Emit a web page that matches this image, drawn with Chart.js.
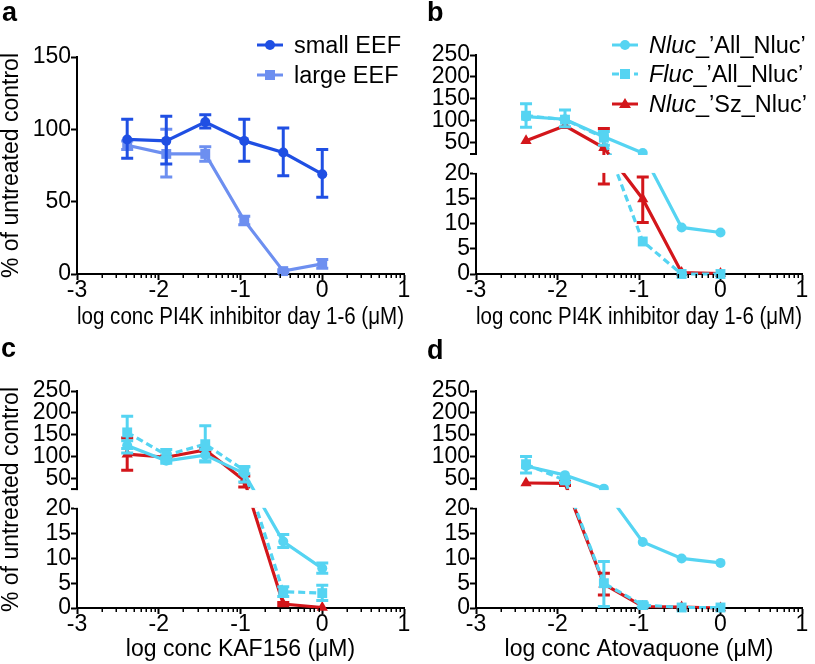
<!DOCTYPE html>
<html>
<head>
<meta charset="utf-8">
<script src="https://cdn.jsdelivr.net/npm/chart.js@4.4.1/dist/chart.umd.min.js"></script>
<style>
  body { margin: 0; background: #fff; width: 815px; height: 664px; overflow: hidden; position: relative;
         font-family: 'Liberation Sans', Arial, Helvetica, sans-serif; color: #000; }
  canvas { position: absolute; }
  .lbl { position: absolute; font-weight: bold; font-size: 27px; line-height: 27px; }
  .leg { position: absolute; font-size: 23.5px; line-height: 24px; height: 24px; display: flex; align-items: center; white-space: nowrap; }
  .leg svg { margin-right: 11px; }
</style>
</head>
<body>
<canvas id="pa" width="415" height="334" style="left:0;top:0"></canvas>
<canvas id="pb" width="405" height="334" style="left:410px;top:0"></canvas>
<canvas id="pc" width="415" height="332" style="left:0;top:332px"></canvas>
<canvas id="pd" width="405" height="332" style="left:410px;top:332px"></canvas>

<div class="lbl" style="left:2px;top:-1px">a</div>
<div class="lbl" style="left:427px;top:-1px">b</div>
<div class="lbl" style="left:1px;top:335px">c</div>
<div class="lbl" style="left:427px;top:337px">d</div>
<div id="legends"></div>

<script>
// x = log10 of concentration (µM), 3-fold dilutions
const logConc = [-2.386, -1.908, -1.431, -0.954, -0.477, 0];
const xTicks = [-3, -2, -1, 0, 1];
const xTickLabels = ['-3', '-2', '-1', '0', '1'];
const minorFactors = [2, 3, 4, 5, 6, 7, 8, 9];
const yTicksA = [0, 50, 100, 150];
const yTicksBroken = [0, 5, 10, 15, 20, 50, 100, 150, 200, 250];

// panel a
const smallEEF   = [93, 92, 105, 92, 84, 69];
const smallEEFLo = [80, 76, 101, 78, 68, 53];
const smallEEFHi = [107, 109, 110, 107, 101, 86];
const largeEEF   = [89, 83, 83, 37, 2, 7];
const largeEEFLo = [86, 67, 78, 34, 1, 4];
const largeEEFHi = [92, 100, 88, 40, 3, 10];

// panel b (PI4K inhibitor)
const bNluc   = [110, 104, 64, 27, 9.3, 8.3];
const bNlucLo = [null, null, null, null, null, null];
const bNlucHi = [null, null, null, null, null, null];
const bFluc   = [112, 103, 62, 6.5, 0, 0];
const bFlucLo = [86, 87, 45, null, null, null];
const bFlucHi = [139, 125, 76, null, null, null];
const bSz     = [55, 89, 39, 15, 0.3, 0.1];
const bSzLo   = [null, null, 18, 10.3, null, null];
const bSzHi   = [null, null, 83, 19.4, null, null];

// panel c (KAF156)
const cNluc   = [125, 90, 103, 61, 13.4, 8.0];
const cNlucLo = [108, 84, 90, 41, 12.2, 7.0];
const cNlucHi = [136, 98, 116, 76, 14.8, 9.1];
const cFluc   = [155, 103, 128, 68, 3.3, 3.0];
const cFlucLo = [118, 90, 87, 60, 2.3, 1.5];
const cFlucHi = [192, 116, 170, 76, 4.3, 4.6];
const cSz     = [105, 98, 115, 45, 0.8, 0.1];
const cSzLo   = [68, 95, 112, 30, 0.5, null];
const cSzHi   = [142, 101, 118, 55, 1.1, null];

// panel d (Atovaquone)
const dNluc   = [78, 57, 26, 13.3, 10.0, 9.1];
const dNlucLo = [null, null, null, null, null, null];
const dNlucHi = [null, null, null, null, null, null];
const dFluc   = [82, 45, 5.0, 0.6, 0.1, 0.1];
const dFlucLo = [62, 40, 0.3, 0.2, null, null];
const dFlucHi = [100, 50, 9.4, 1.0, null, null];
const dSz     = [39, 38, 4.8, 0.3, 0.2, 0];
const dSzLo   = [null, 33, 2.6, null, null, null];
const dSzHi   = [null, 42, 7.0, null, null, null];

const colSmall = '#1f4fe3', colLarge = '#6d8ff0', colCyan = '#55d4f2', colRed = '#d3161b';
const FONT = "'Liberation Sans', Arial, Helvetica, sans-serif";
const yTitle = '% of untreated control';

// linear scale with a gap: 0..lowMax in the lower part, highMin..max in the upper part
class BrokenScale extends Chart.LinearScale {
  _parts() {
    const b = this.options.brk, h = this.bottom - this.top;
    const lowTop = this.bottom - h * b.lowFrac;
    return { b, lowTop, highBottom: lowTop - h * b.gapFrac };
  }
  getPixelForValue(v) {
    const { b, lowTop, highBottom } = this._parts();
    if (v <= b.lowMax) return this.bottom - (v - this.min) / (b.lowMax - this.min) * (this.bottom - lowTop);
    if (v >= b.highMin) return highBottom - (v - b.highMin) / (this.max - b.highMin) * (highBottom - this.top);
    return lowTop - (v - b.lowMax) / (b.highMin - b.lowMax) * (lowTop - highBottom);
  }
  getValueForPixel(p) {
    const { b, lowTop, highBottom } = this._parts();
    if (p >= lowTop) return this.min + (this.bottom - p) / (this.bottom - lowTop) * (b.lowMax - this.min);
    if (p <= highBottom) return b.highMin + (highBottom - p) / (highBottom - this.top) * (this.max - b.highMin);
    return b.lowMax + (lowTop - p) / (lowTop - highBottom) * (b.highMin - b.lowMax);
  }
}
BrokenScale.id = 'broken';
BrokenScale.defaults = Chart.LinearScale.defaults;
Chart.register(BrokenScale);

const decor = {
  id: 'decor',
  beforeDatasetDraw(chart, args) {
    const ds = chart.data.datasets[args.index];
    const x = chart.scales.x, y = chart.scales.y, ctx = chart.ctx;
    ctx.save();
    ctx.strokeStyle = ds.borderColor; ctx.lineWidth = 3; ctx.setLineDash([]);
    ds.errLo.forEach((lo, i) => {
      const hi = ds.errHi[i];
      if (lo == null || hi == null) return;
      const px = x.getPixelForValue(logConc[i]);
      const y1 = y.getPixelForValue(lo), y2 = y.getPixelForValue(hi);
      ctx.beginPath();
      ctx.moveTo(px, y1); ctx.lineTo(px, y2);
      ctx.moveTo(px - 6, y1); ctx.lineTo(px + 6, y1);
      ctx.moveTo(px - 6, y2); ctx.lineTo(px + 6, y2);
      ctx.stroke();
    });
    ctx.restore();
  },
  afterDatasetsDraw(chart) {
    const { ctx, chartArea: ca } = chart;
    const x = chart.scales.x, y = chart.scales.y;
    ctx.save();
    ctx.strokeStyle = '#000'; ctx.lineWidth = 1.5;
    ctx.beginPath();
    xTicks.slice(0, -1).forEach(d => minorFactors.forEach(k => {
      const px = Math.round(x.getPixelForValue(d + Math.log10(k))) + 0.25;
      ctx.moveTo(px, ca.bottom); ctx.lineTo(px, ca.bottom + 4);
    }));
    ctx.stroke();
    const b = y.options.brk;
    if (b) {
      const lowTop = y.getPixelForValue(b.lowMax), highBottom = y.getPixelForValue(b.highMin);
      ctx.fillStyle = '#fff';
      ctx.fillRect(ca.left - 3, highBottom + 1, ca.right - ca.left + 10, lowTop - highBottom - 2);
      ctx.lineWidth = 2;
      ctx.beginPath(); ctx.moveTo(ca.left - 6, highBottom); ctx.lineTo(ca.left + 1, highBottom); ctx.stroke();
    }
    ctx.restore();
  }
};

function series(label, y, lo, hi, color, marker, r, dash) {
  return { label, y, lo, hi, color, marker, r, dash };
}

function makePanel(id, p) {
  const yScale = p.broken
    ? { type: 'broken', min: 0, max: 250, brk: { lowMax: 20, highMin: 25, lowFrac: 0.457, gapFrac: 0.091 } }
    : { type: 'linear', min: 0, max: 150 };
  const yTicks = p.broken ? yTicksBroken : yTicksA;
  new Chart(document.getElementById(id), {
    type: 'line',
    data: {
      datasets: p.series.map(s => ({
        label: s.label,
        data: logConc.map((x, i) => ({ x, y: s.y[i] })),
        errLo: s.lo, errHi: s.hi,
        borderColor: s.color, backgroundColor: s.color,
        borderWidth: 3.2, borderDash: s.dash || [],
        pointStyle: s.marker, pointRadius: s.r, pointBorderWidth: 0,
        tension: 0, clip: false
      }))
    },
    plugins: [decor],
    options: {
      responsive: false, animation: false, devicePixelRatio: 1,
      layout: { padding: { left: 0, top: p.padTop, right: p.padRight, bottom: 0 } },
      plugins: { legend: { display: false }, tooltip: { enabled: false } },
      scales: {
        x: {
          type: 'linear', min: -3, max: 1,
          afterBuildTicks: s => { s.ticks = xTicks.map(v => ({ value: v })); },
          afterFit: s => { s.height = p.xh; },
          ticks: { autoSkip: false, maxRotation: 0, padding: -1, color: '#000',
                   font: { family: FONT, size: 23, lineHeight: 1 },
                   callback: (v, i) => xTickLabels[i] },
          grid: { drawOnChartArea: false, tickLength: 6, tickWidth: 2, color: '#000' },
          border: { display: true, width: 2, color: '#000' },
          title: { display: true, text: p.xTitle, color: '#000', padding: { top: 0, bottom: p.xTitlePad },
                   font: { family: FONT, size: 23, lineHeight: 1.2 } }
        },
        y: Object.assign(yScale, {
          afterBuildTicks: s => { s.ticks = yTicks.map(v => ({ value: v })); },
          afterFit: s => { s.width = p.yw; },
          ticks: { autoSkip: false, padding: 0, color: '#000',
                   font: { family: FONT, size: 23, lineHeight: 1 },
                   callback: v => String(v) },
          grid: { drawOnChartArea: false, tickLength: 6, tickWidth: 2, color: '#000' },
          border: { display: true, width: 2, color: '#000' },
          title: { display: !!p.yTitle, text: p.yTitle || '', color: '#000', padding: { top: 0, bottom: 0 },
                   font: { family: FONT, size: 23, lineHeight: 1 } }
        })
      }
    }
  });
}

const seriesA = [
  series('small EEF', smallEEF, smallEEFLo, smallEEFHi, colSmall, 'circle', 5),
  series('large EEF', largeEEF, largeEEFLo, largeEEFHi, colLarge, 'rect', 7)
];
const trio = (n, nl, nh, f, fl, fh, s, sl, sh) => [
  series("Nluc_’All_Nluc’", n, nl, nh, colCyan, 'circle', 5),
  series("Fluc_’All_Nluc’", f, fl, fh, colCyan, 'rect', 7, [7, 4]),
  series("Nluc_’Sz_Nluc’", s, sl, sh, colRed, 'triangle', 6.5)
];

makePanel('pa', { series: seriesA, broken: false, padTop: 57, padRight: 11, yw: 77, xh: 60, xTitlePad: 3,
  yTitle, xTitle: 'log conc PI4K inhibitor day 1-6 (μM)' });
makePanel('pb', { series: trio(bNluc, bNlucLo, bNlucHi, bFluc, bFlucLo, bFlucHi, bSz, bSzLo, bSzHi),
  broken: true, padTop: 55, padRight: 13, yw: 66, xh: 60, xTitlePad: 3,
  xTitle: 'log conc PI4K inhibitor day 1-6 (μM)' });
makePanel('pc', { series: trio(cNluc, cNlucLo, cNlucHi, cFluc, cFlucLo, cFlucHi, cSz, cSzLo, cSzHi),
  broken: true, padTop: 59, padRight: 11, yw: 77, xh: 56, xTitlePad: 1,
  yTitle, xTitle: 'log conc KAF156 (μM)' });
makePanel('pd', { series: trio(dNluc, dNlucLo, dNlucHi, dFluc, dFlucLo, dFlucHi, dSz, dSzLo, dSzHi),
  broken: true, padTop: 59, padRight: 13, yw: 66, xh: 56, xTitlePad: 1,
  xTitle: 'log conc Atovaquone (μM)' });

// legends (HTML text with small line+marker swatches)
function swatch(s) {
  const dash = s.dash ? ` stroke-dasharray="${s.dash.join(' ')}"` : '';
  let mark;
  if (s.marker === 'circle') mark = `<circle cx="13" cy="12" r="5" fill="${s.color}"/>`;
  else if (s.marker === 'rect') mark = `<rect x="8" y="7" width="10" height="10" fill="${s.color}"/>`;
  else mark = `<polygon points="13,6 19,16 7,16" fill="${s.color}"/>`;
  return `<svg width="26" height="24"><line x1="0" y1="12" x2="26" y2="12" stroke="${s.color}" stroke-width="3"${dash}/>${mark}</svg>`;
}
function legend(list, left, tops) {
  const box = document.getElementById('legends');
  list.forEach((s, i) => {
    const d = document.createElement('div');
    d.className = 'leg';
    d.style.left = left + 'px'; d.style.top = tops[i] + 'px';
    const m = s.label.match(/^(Nluc|Fluc)(.*)$/);
    const txt = m ? `<i>${m[1]}</i>${m[2]}` : s.label;
    d.innerHTML = swatch(s) + `<span>${txt}</span>`;
    box.appendChild(d);
  });
}
legend(seriesA, 257, [33, 63]);
legend(trio(bNluc, bNlucLo, bNlucHi, bFluc, bFlucLo, bFlucHi, bSz, bSzLo, bSzHi), 612, [33, 62, 92]);
</script>
</body>
</html>
